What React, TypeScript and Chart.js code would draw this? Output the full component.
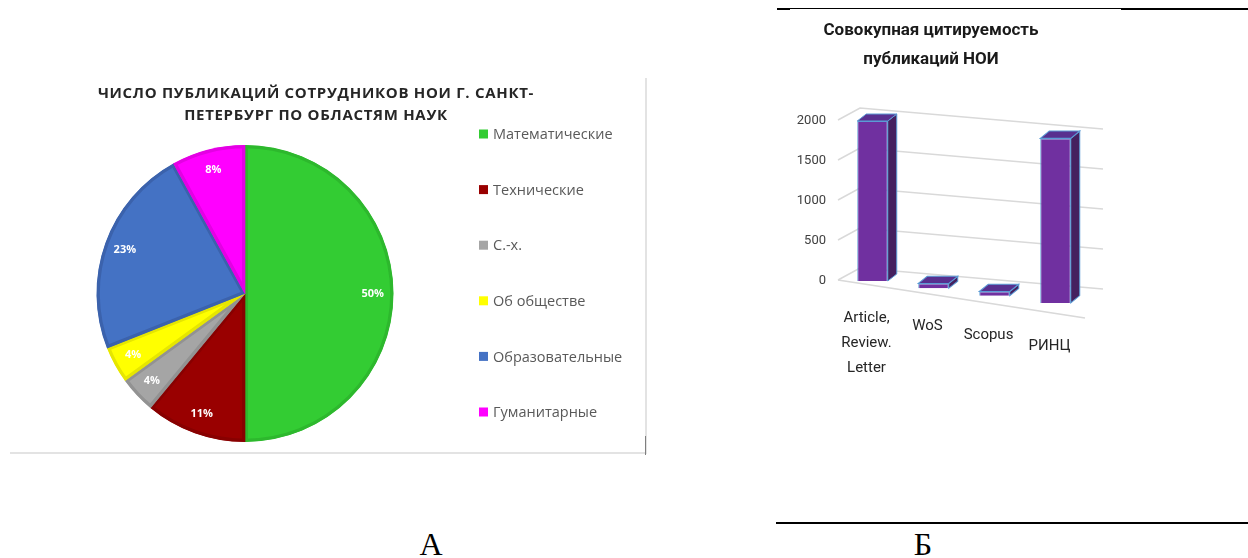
import React, { useEffect, useRef } from "react";
import { Chart, registerables } from "chart.js";
Chart.register(...registerables);

const pieTitle = ["ЧИСЛО ПУБЛИКАЦИЙ СОТРУДНИКОВ НОИ Г. САНКТ-", "ПЕТЕРБУРГ ПО ОБЛАСТЯМ НАУК"];
const pieLabels = ["Математические", "Технические", "С.-х.", "Об обществе", "Образовательные", "Гуманитарные"];
const pieValues = [50, 11, 4, 4, 23, 8];
const pieColors = ["#33CC33", "#990000", "#A5A5A5", "#FFFF00", "#4472C4", "#FF00FF"];
const pieBorders = ["#2DB82D", "#880000", "#929292", "#E6E600", "#3B62AC", "#E400E4"];

const barTitle = ["Совокупная цитируемость", "публикаций НОИ"];
const barLabels = [["Article,", "Review.", "Letter"], ["WoS"], ["Scopus"], ["РИНЦ"]];
const barValues = [2000, 60, 50, 1950];
const yTickStep = 500;
const yMax = 2000;

const pieDecor = {
  id: "pieDecor",
  afterDatasetsDraw(chart: any) {
    const ctx = chart.ctx;
    const meta = chart.getDatasetMeta(0);
    const data = chart.data.datasets[0].data;
    ctx.save();
    ctx.fillStyle = "#ffffff";
    ctx.font = 'bold 11px "Open Sans"';
    ctx.textAlign = "center";
    ctx.textBaseline = "middle";
    meta.data.forEach((arc: any, i: number) => {
      const { x, y, startAngle, endAngle, outerRadius } = arc.getProps(
        ["x", "y", "startAngle", "endAngle", "outerRadius"],
        true
      );
      const mid = (startAngle + endAngle) / 2;
      const r = outerRadius * 0.86;
      ctx.fillText(data[i] + "%", x + Math.cos(mid) * r, y + Math.sin(mid) * r);
    });
    ctx.restore();
  },
  afterDraw(chart: any) {
    const ctx = chart.ctx;
    ctx.save();
    ctx.fillStyle = "#262626";
    ctx.font = 'bold 15px "Open Sans"';
    (ctx as any).letterSpacing = "0.7px";
    ctx.textAlign = "center";
    ctx.textBaseline = "middle";
    pieTitle.forEach((t, i) => ctx.fillText(t, 306, 14 + i * 22));
    (ctx as any).letterSpacing = "0px";
    ctx.textAlign = "left";
    ctx.font = '14.5px "Open Sans"';
    const labels = chart.data.labels as string[];
    const colors = chart.data.datasets[0].backgroundColor as string[];
    labels.forEach((t, i) => {
      const cy = 54 + i * 55.6;
      ctx.fillStyle = colors[i];
      ctx.fillRect(469, cy - 4.5, 9, 9);
      ctx.fillStyle = "#595959";
      ctx.fillText(t, 483, cy + 1);
    });
    ctx.restore();
  },
};

const K_OFF = 0.12;
const K_SCALE = 0.0003;

const bar3d = {
  id: "bar3d",
  beforeDatasetsDraw(chart: any) {
    const { ctx, chartArea } = chart;
    const L = chartArea.left;
    const R = chartArea.right;
    const ys = chart.scales.y;
    ctx.save();
    ctx.strokeStyle = "#D9D9D9";
    ctx.lineWidth = 1.5;
    ys.ticks.forEach((t: any) => {
      const p = ys.getPixelForValue(t.value);
      ctx.beginPath();
      ctx.moveTo(L - 4, p - 1);
      ctx.lineTo(L + 18, p - 13);
      ctx.lineTo(R + 17, p + 8);
      ctx.stroke();
    });
    const p0 = ys.getPixelForValue(0);
    ctx.beginPath();
    ctx.moveTo(L - 4, p0 - 1);
    ctx.lineTo(R - 1, p0 + 37);
    ctx.stroke();
    ctx.restore();
  },
  beforeDatasetDraw(chart: any, args: any) {
    const ctx = chart.ctx;
    const meta = args.meta;
    const x0 = meta.data[0].x;
    meta.data.forEach((el: any) => {
      const { x, y, base, width } = el.getProps(["x", "y", "base", "width"], true);
      const d = x - x0;
      const off = K_OFF * d;
      const s = 1 + K_SCALE * d;
      ctx.save();
      ctx.translate(0, base + off);
      ctx.scale(1, s);
      ctx.translate(0, -base);
      const l = x - width / 2;
      const r = x + width / 2;
      const dx = 9;
      const dy = -7;
      ctx.lineWidth = 1;
      ctx.strokeStyle = "#5B9BD5";
      ctx.beginPath();
      ctx.moveTo(r, y);
      ctx.lineTo(r + dx, y + dy);
      ctx.lineTo(r + dx, base + dy);
      ctx.lineTo(r, base);
      ctx.closePath();
      ctx.fillStyle = "#45205F";
      ctx.fill();
      ctx.stroke();
      ctx.beginPath();
      ctx.moveTo(l, y);
      ctx.lineTo(l + dx, y + dy);
      ctx.lineTo(r + dx, y + dy);
      ctx.lineTo(r, y);
      ctx.closePath();
      ctx.fillStyle = "#58308F";
      ctx.fill();
      ctx.stroke();
      el.draw(ctx);
      ctx.restore();
    });
    return false;
  },
  afterDraw(chart: any) {
    const ctx = chart.ctx;
    const xs = chart.scales.x;
    const ys = chart.scales.y;
    const p0 = ys.getPixelForValue(0);
    const x0 = xs.getPixelForValue(0);
    ctx.save();
    ctx.fillStyle = "#1a1a1a";
    ctx.font = "bold 17px Roboto";
    ctx.textAlign = "center";
    ctx.textBaseline = "middle";
    barTitle.forEach((t, i) => ctx.fillText(t, 171, 31 + i * 29));
    ctx.font = "15px Roboto";
    ctx.fillStyle = "#262626";
    (chart.data.labels as string[][]).forEach((lines, i) => {
      const x = xs.getPixelForValue(i);
      const d = x - x0;
      const off = K_OFF * d * (1 + d / 600);
      lines.forEach((t, j) => ctx.fillText(t, x - 6, p0 + off + 37 + j * 25));
    });
    ctx.restore();
  },
};

function PieChart() {
  const ref = useRef<HTMLCanvasElement>(null);
  useEffect(() => {
    const chart = new Chart(ref.current!, {
      type: "pie",
      data: {
        labels: pieLabels,
        datasets: [
          {
            data: pieValues,
            backgroundColor: pieColors,
            borderColor: pieBorders,
            borderWidth: 3,
            borderAlign: "inner",
          } as any,
        ],
      },
      options: {
        animation: false,
        responsive: false,
        layout: { padding: { top: 65, bottom: 11, left: 0, right: 166 } },
        plugins: {
          legend: { display: false },
          title: { display: false },
          tooltip: { enabled: false },
        },
      },
      plugins: [pieDecor],
    });
    return () => chart.destroy();
  }, []);
  return (
    <canvas
      ref={ref}
      width={636}
      height={373}
      style={{ position: "absolute", left: 10, top: 80, width: 636, height: 373 }}
    />
  );
}

function BarChart() {
  const ref = useRef<HTMLCanvasElement>(null);
  useEffect(() => {
    const chart = new Chart(ref.current!, {
      type: "bar",
      data: {
        labels: barLabels as any,
        datasets: [
          {
            data: barValues,
            backgroundColor: "#7030A0",
            borderColor: "#5B9BD5",
            borderWidth: 1,
            barPercentage: 0.5,
            categoryPercentage: 1,
          },
        ],
      },
      options: {
        animation: false,
        responsive: false,
        layout: { padding: { top: 121, bottom: 139, left: 22, right: 162 } },
        scales: {
          x: { display: false },
          y: {
            min: 0,
            max: yMax,
            afterFit: (s: any) => {
              s.width = 60;
            },
            grid: { display: false },
            border: { display: false },
            ticks: {
              stepSize: yTickStep,
              padding: 8,
              color: "#404040",
              font: { family: "Roboto", size: 13 },
              callback: (v: any) => String(v),
            },
          },
        },
        plugins: { legend: { display: false }, tooltip: { enabled: false } },
      },
      plugins: [bar3d],
    });
    return () => chart.destroy();
  }, []);
  return (
    <canvas
      ref={ref}
      width={488}
      height={420}
      style={{ position: "absolute", left: 760, top: 0, width: 488, height: 420 }}
    />
  );
}

const line = (left: number, top: number, width: number, height: number, bg: string) => (
  <div style={{ position: "absolute", left, top, width, height, background: bg }} />
);

export default function App() {
  return (
    <div
      style={{
        position: "absolute",
        left: 0,
        top: 0,
        width: 1248,
        height: 558,
        background: "#fff",
        overflow: "hidden",
      }}
    >
      <PieChart />
      <BarChart />
      {line(10, 452, 637, 2, "#E3E3E3")}
      {line(645, 78, 2, 376, "#E3E3E3")}
      {line(645, 436, 1, 19, "#7F7F7F")}
      {line(777, 8, 471, 1, "#000")}
      {line(777, 8, 13, 2, "#000")}
      {line(1121, 8, 127, 2, "#000")}
      {line(776, 522, 472, 2, "#000")}
      <div
        style={{
          position: "absolute",
          left: 391,
          top: 528,
          width: 80,
          textAlign: "center",
          font: '32px "Liberation Serif"',
          lineHeight: "32px",
          color: "#000",
        }}
      >
        А
      </div>
      <div
        style={{
          position: "absolute",
          left: 883,
          top: 528,
          width: 80,
          textAlign: "center",
          font: '32px "Liberation Serif"',
          lineHeight: "32px",
          color: "#000",
        }}
      >
        Б
      </div>
    </div>
  );
}
